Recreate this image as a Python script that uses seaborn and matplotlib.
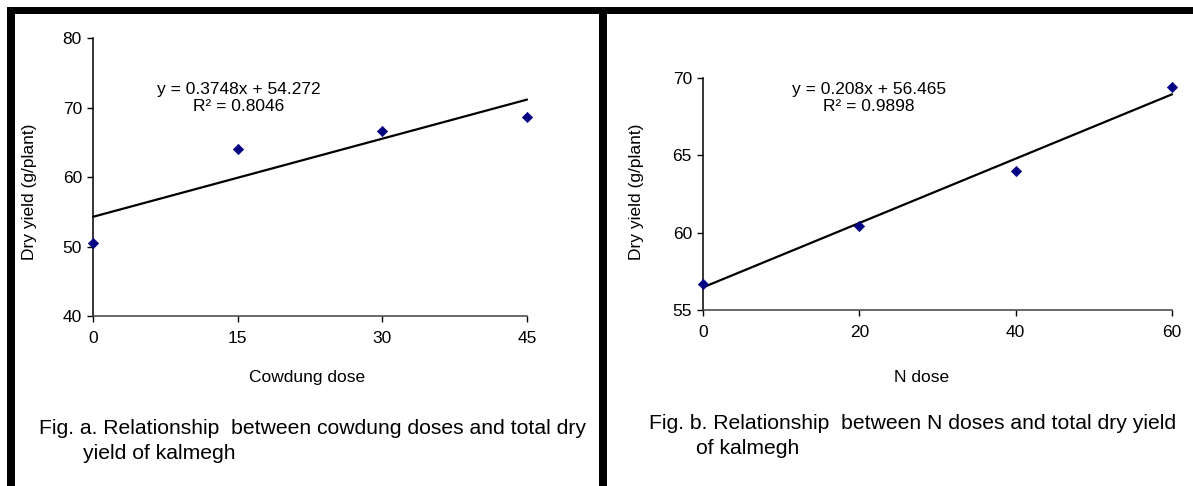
import numpy as np
import pandas as pd
import seaborn as sns
import matplotlib.pyplot as plt
from matplotlib.patches import Rectangle

## data
cowdung_dose = [0, 15, 30, 45]
cowdung_yield = [50.5, 64.0, 66.6, 68.7]
cowdung_fit = (0.3748, 54.272)   # slope, intercept
cowdung_r2 = 0.8046
cowdung_xticks = [0, 15, 30, 45]
cowdung_yticks = [40, 50, 60, 70, 80]

n_dose = [0, 20, 40, 60]
n_yield = [56.7, 60.4, 64.0, 69.4]
n_fit = (0.208, 56.465)
n_r2 = 0.9898
n_xticks = [0, 20, 40, 60]
n_yticks = [55, 60, 65, 70]

caption_a = ["Fig. a. Relationship  between cowdung doses and total dry", "yield of kalmegh"]
caption_b = ["Fig. b. Relationship  between N doses and total dry yield", "of kalmegh"]

## style
sns.set_style("ticks")
plt.rcParams['font.family'] = ['Liberation Sans', 'DejaVu Sans']
plt.rcParams['text.color'] = "black"
plt.rcParams['axes.labelcolor'] = "black"
W, H = 1193, 486
fig = plt.figure(figsize=(W / 100, H / 100), dpi=100)


def px_axes(left, top, right, bottom):
    return fig.add_axes([left / W, 1 - bottom / H, (right - left) / W, (bottom - top) / H])


def draw_panel(ax, dose, yld, fit, r2, xticks, yticks, xlabel, xlab_pos, ylab_pos, eq_pos):
    df = pd.DataFrame({"dose": dose, "yield": yld})
    line = pd.DataFrame({"dose": [dose[0], dose[-1]]})
    line["yield"] = fit[1] + fit[0] * line["dose"]
    sns.lineplot(data=line, x="dose", y="yield", color="black", lw=1.6, ax=ax, clip_on=False, zorder=4)
    sns.scatterplot(data=df, x="dose", y="yield", marker="D", s=28, color="#000080",
                    edgecolor="#000080", ax=ax, clip_on=False, zorder=5)
    ax.set_xlim(xticks[0], xticks[-1])
    ax.set_ylim(yticks[0], yticks[-1])
    ax.set_xticks(xticks)
    ax.set_yticks(yticks)
    sns.despine(ax=ax)
    ax.spines["left"].set_linewidth(1.1)
    ax.spines["left"].set_color("black")
    ax.spines["bottom"].set_linewidth(1.1)
    ax.spines["bottom"].set_color("#404040")
    ax.tick_params(direction="out", length=4, width=1, colors="black", labelsize=12.5, pad=4)
    ax.tick_params(axis="x", pad=7)
    ax.set_xlabel(xlabel, fontsize=12.5)
    ax.set_ylabel("Dry yield (g/plant)", fontsize=12.5)
    ax.xaxis.set_label_coords(*xlab_pos)
    ax.yaxis.set_label_coords(*ylab_pos)
    ax.text(eq_pos[0], eq_pos[1], f"y = {fit[0]}x + {fit[1]}\nR² = {r2}",
            transform=ax.transAxes, ha="center", va="center", fontsize=12.5, linespacing=1.1)


ax1 = px_axes(93, 38, 527, 316)
draw_panel(ax1, cowdung_dose, cowdung_yield, cowdung_fit, cowdung_r2,
           cowdung_xticks, cowdung_yticks, "Cowdung dose",
           (0.493, -0.194), (-0.129, 0.446), (0.336, 0.784))

ax2 = px_axes(703, 78, 1172, 310)
draw_panel(ax2, n_dose, n_yield, n_fit, n_r2,
           n_xticks, n_yticks, "N dose",
           (0.465, -0.259), (-0.126, 0.509), (0.354, 0.914))

## captions
fig.text(39 / W, 1 - 428 / H, caption_a[0], fontsize=15.2, va="center")
fig.text(83 / W, 1 - 453 / H, caption_a[1], fontsize=15.2, va="center")
fig.text(649 / W, 1 - 423 / H, caption_b[0], fontsize=15.2, va="center")
fig.text(696 / W, 1 - 448 / H, caption_b[1], fontsize=15.2, va="center")

## black frame bands
for x0, y0, x1, y1 in [(7.5, 7.5, W, 14.5), (7.5, 7.5, 14.5, H), (599, 7.5, 607, H)]:
    fig.add_artist(Rectangle((x0 / W, 1 - y1 / H), (x1 - x0) / W, (y1 - y0) / H,
                             transform=fig.transFigure, color="black", lw=0))

fig.savefig("out.png", dpi=100)
